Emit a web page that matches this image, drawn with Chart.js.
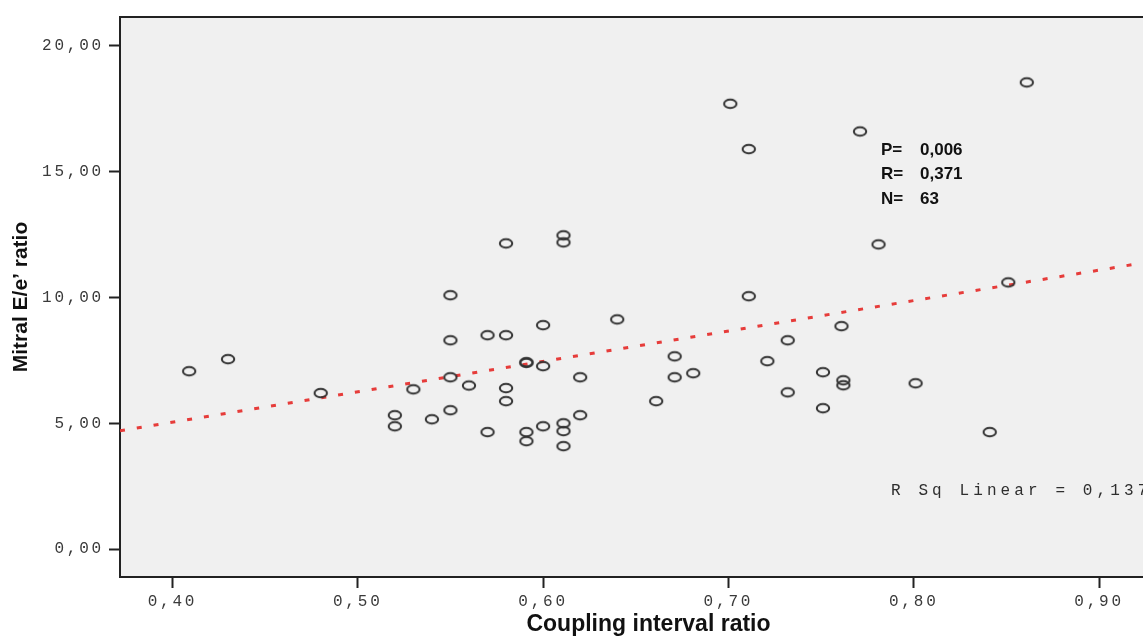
<!DOCTYPE html>
<html>
<head>
<meta charset="utf-8">
<script src="https://cdn.jsdelivr.net/npm/chart.js@4.4.0/dist/chart.umd.min.js"></script>
<style>
    html, body { margin: 0; padding: 0; background: #fff; }
</style>
</head>
<body>
<canvas id="graficoDispersion" width="1143" height="637"></canvas>
<script>
// Datos
const couplingRatio = [
    0.409, 0.430, 0.480, 0.520, 0.520, 0.530, 0.540, 0.550, 0.550, 0.550,
    0.550, 0.560, 0.570, 0.570, 0.580, 0.580, 0.580, 0.580, 0.591, 0.591,
    0.591, 0.591, 0.600, 0.600, 0.600, 0.611, 0.611, 0.611, 0.611, 0.611,
    0.620, 0.620, 0.640, 0.661, 0.671, 0.671, 0.681, 0.701, 0.711, 0.711,
    0.721, 0.732, 0.732, 0.751, 0.751, 0.761, 0.762, 0.762, 0.771, 0.781,
    0.801, 0.841, 0.851, 0.861
];
const mitralEe = [
    7.07, 7.55, 6.20, 5.32, 4.88, 6.35, 5.16, 10.09, 8.30, 6.83,
    5.52, 6.50, 8.50, 4.65, 12.15, 8.50, 6.40, 5.88, 7.43, 7.40,
    4.65, 4.29, 8.90, 7.27, 4.88, 12.47, 12.19, 5.00, 4.69, 4.09,
    6.83, 5.32, 9.13, 5.88, 7.66, 6.83, 6.99, 17.70, 15.90, 10.05,
    7.47, 8.30, 6.23, 7.03, 5.60, 8.86, 6.71, 6.51, 16.60, 12.11,
    6.59, 4.65, 10.60, 18.55
];

// Recta de ajuste (extremos)
const ajusteX = [0.3717, 0.930];
const ajusteY = [4.70, 11.45];

const ticksX = [0.40, 0.50, 0.60, 0.70, 0.80, 0.90];
const ticksY = [0, 5, 10, 15, 20];

const estadisticos = [
    ["P=", "0,006"],
    ["R=", "0,371"],
    ["N=", "63"]
];
const textoR2 = "R Sq Linear = 0,137";

function coma(v){
    return v.toFixed(2).replace(".", ",");
}

const puntos = couplingRatio.map((x, i) => ({ x: x, y: mitralEe[i] }));
const recta = ajusteX.map((x, i) => ({ x: x, y: ajusteY[i] }));

const fuenteMono = "'Liberation Mono', 'Courier New', monospace";
const fuenteSans = "'Liberation Sans', Arial, sans-serif";

// marcador: circulo abierto algo achatado, como en la imagen
function marcaElipse(){
    const c = document.createElement("canvas");
    c.width = 18;
    c.height = 14;
    const g = c.getContext("2d");
    g.strokeStyle = "#333";
    g.lineWidth = 2;
    g.beginPath();
    g.ellipse(9, 7, 6.2, 4.2, 0, 0, Math.PI * 2);
    g.stroke();
    return c;
}

const marcoPlugin = {
    id: "marco",
    beforeDraw(chart){
        const ctx = chart.ctx;
        const a = chart.chartArea;
        ctx.save();
        ctx.fillStyle = "#f0f0f0";
        ctx.fillRect(a.left, a.top, a.right - a.left, a.bottom - a.top);
        ctx.restore();

        Object.values(chart.scales).forEach(s => {
            if (s._parcheado) return;
            const etiquetas = s.drawLabels;
            s.drawLabels = function(area){
                this.ctx.save();
                this.ctx.letterSpacing = "2.8px";
                etiquetas.call(this, area);
                this.ctx.restore();
            };
            if (s.id === "x") {
                // el titulo original esta centrado en un area mas ancha (recortada)
                const titulo = s.drawTitle;
                s.drawTitle = function(){
                    this.ctx.save();
                    this.ctx.translate(17, 0);
                    titulo.call(this);
                    this.ctx.restore();
                };
            }
            s._parcheado = true;
        });
    },
    afterDraw(chart){
        const ctx = chart.ctx;
        const a = chart.chartArea;
        ctx.save();
        ctx.strokeStyle = "#222";
        ctx.lineWidth = 2;
        ctx.beginPath();
        ctx.moveTo(a.left, a.top);
        ctx.lineTo(a.right, a.top);
        ctx.stroke();

        ctx.fillStyle = "#111";
        ctx.font = "bold 17px " + fuenteSans;
        ctx.textBaseline = "middle";
        estadisticos.forEach((fila, i) => {
            const y = 150 + i * 24.5;
            ctx.fillText(fila[0], 881, y);
            ctx.fillText(fila[1], 920, y);
        });

        ctx.font = "16px " + fuenteMono;
        ctx.letterSpacing = "4.1px";
        ctx.fillStyle = "#2e2e2e";
        ctx.fillText(textoR2, 891, 491);
        ctx.restore();
    }
};

new Chart(document.getElementById("graficoDispersion"), {
    type: "scatter",
    data: {
        datasets: [
            {
                type: "line",
                data: recta,
                borderColor: "#e63c3a",
                borderWidth: 3,
                borderDash: [5, 12],
                pointRadius: 0,
                fill: false,
                order: 2
            },
            {
                data: puntos,
                pointStyle: marcaElipse(),
                order: 1
            }
        ]
    },
    plugins: [marcoPlugin],
    options: {
        responsive: false,
        animation: false,
        layout: {
            autoPadding: false,
            padding: { top: 17, right: 0, left: 0, bottom: 0 }
        },
        plugins: {
            legend: { display: false },
            tooltip: { enabled: false }
        },
        scales: {
            x: {
                type: "linear",
                min: 0.3717,
                max: 0.9237,
                afterBuildTicks: s => { s.ticks = ticksX.map(v => ({ value: v })); },
                afterFit: s => {
                    s.height = 60;
                    s.paddingLeft = 0;
                    s.paddingRight = 0;
                },
                grid: {
                    display: true,
                    drawOnChartArea: false,
                    drawTicks: true,
                    tickLength: 11,
                    tickWidth: 2,
                    color: "#222"
                },
                border: { display: true, color: "#222", width: 2 },
                ticks: {
                    callback: v => coma(v),
                    font: { family: fuenteMono, size: 16 },
                    color: "#3a3a3a",
                    padding: 4,
                    maxRotation: 0
                },
                title: {
                    display: true,
                    text: "Coupling interval ratio",
                    font: { family: fuenteSans, size: 23, weight: "bold", lineHeight: 1 },
                    color: "#111",
                    padding: { top: 0, bottom: 1 }
                }
            },
            y: {
                type: "linear",
                min: -1.11,
                max: 21.15,
                afterBuildTicks: s => { s.ticks = ticksY.map(v => ({ value: v })); },
                afterFit: s => { s.width = 120; },
                grid: {
                    display: true,
                    drawOnChartArea: false,
                    drawTicks: true,
                    tickLength: 11,
                    tickWidth: 2,
                    color: "#222"
                },
                border: { display: true, color: "#222", width: 2 },
                ticks: {
                    callback: v => coma(v),
                    font: { family: fuenteMono, size: 16 },
                    color: "#3a3a3a",
                    padding: 5
                },
                title: {
                    display: true,
                    text: "Mitral E/e\u2019 ratio",
                    font: { family: fuenteSans, size: 21, weight: "bold", lineHeight: 1.2 },
                    color: "#111",
                    padding: { top: 9, bottom: 0 }
                }
            }
        }
    }
});
</script>
</body>
</html>
